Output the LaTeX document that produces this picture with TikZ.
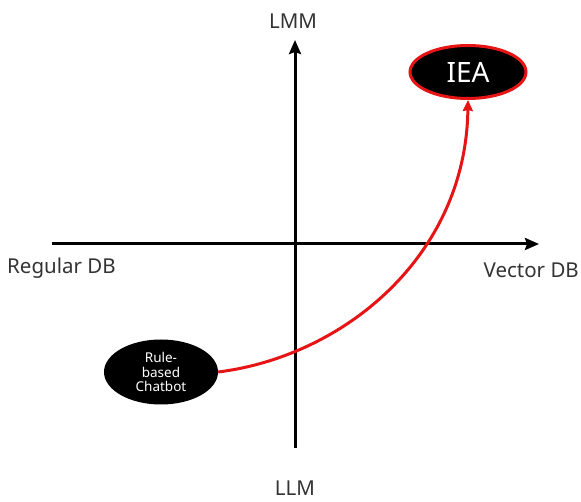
\documentclass[tikz,border=0pt]{standalone}
\usepackage{fontspec}
\setmainfont{Noto Sans}
\usetikzlibrary{arrows.meta,shapes.geometric}
\definecolor{arrred}{RGB}{230,20,20}
\begin{document}
\begin{tikzpicture}[x=1pt,y=-1pt,
  axis/.style={line width=3pt,-{Stealth[length=14pt,width=12pt,inset=2pt]}},
  lbl/.style={font=\fontsize{20.5}{23}\selectfont,text=black!80,inner sep=0pt},
  blob/.style={ellipse,fill=black,text=white,inner sep=0pt}]
\useasboundingbox (0,0) rectangle (581,502);
\coordinate (vb) at (295,448);
\coordinate (vt) at (295,40);
\coordinate (hl) at (52,244);
\coordinate (hr) at (539,244);
\draw[axis] (vb) -- (vt);
\draw[axis] (hl) -- (hr);
\node[lbl] (lmm) at (293,21) {LMM};
\node[lbl] (llm) at (295,488) {LLM};
\node[lbl,anchor=west] (rdb) at (7,268) {Regular DB};
\node[lbl,anchor=east] (vdb) at (579,270) {Vector DB};
\node[blob,draw=arrred,line width=3pt,minimum width=116pt,minimum height=53pt,font=\fontsize{28}{30}\selectfont] (iea) at (468,72) {IEA};
\node[blob,minimum width=114pt,minimum height=65pt,align=center,font=\fontsize{13.5}{14.5}\selectfont] (rbc) at (161,372) {Rule-\\based\\Chatbot};
\draw[arrred,line width=3pt,-{Stealth[length=11pt,width=10pt,inset=1pt]}] (rbc.east) .. controls (345,356) and (466,255) .. (iea.south);
\end{tikzpicture}
\end{document}
